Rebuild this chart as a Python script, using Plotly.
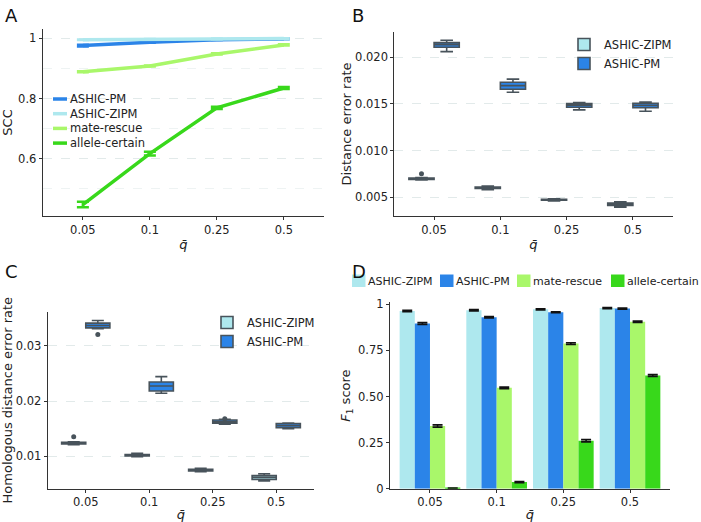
import plotly.graph_objects as go

q_labels = ["0.05", "0.1", "0.25", "0.5"]
methods_a = ["ASHIC-PM", "ASHIC-ZIPM", "mate-rescue", "allele-certain"]
methods_d = ["ASHIC-ZIPM", "ASHIC-PM", "mate-rescue", "allele-certain"]

# ---- Panel A: SCC ----
scc_pm = [0.976, 0.987, 0.995, 0.998]
scc_pm_err = [0.003, 0.002, 0.001, 0.001]
scc_zipm = [0.995, 0.997, 0.998, 0.999]
scc_zipm_err = [0.001, 0.001, 0.001, 0.001]
scc_mate = [0.889, 0.908, 0.948, 0.978]
scc_mate_err = [0.002, 0.002, 0.002, 0.002]
scc_allele = [0.448, 0.617, 0.769, 0.835]
scc_allele_err = [0.009, 0.006, 0.004, 0.003]

# ---- Panel B: distance error rate (box stats) ----
b_zipm_q1 = [0.00692, 0.00596, 0.00469, 0.00412]
b_zipm_med = [0.00699, 0.00603, 0.00474, 0.00428]
b_zipm_q3 = [0.00706, 0.00610, 0.00479, 0.00440]
b_zipm_lo = [0.00685, 0.00582, 0.00460, 0.00395]
b_zipm_hi = [0.00712, 0.00622, 0.00485, 0.00452]
b_zipm_out = [[0.00753], [], [], []]
b_pm_q1 = [0.02107, 0.01657, 0.01465, 0.01460]
b_pm_med = [0.02135, 0.01696, 0.01486, 0.01486]
b_pm_q3 = [0.02156, 0.01732, 0.01503, 0.01507]
b_pm_lo = [0.02060, 0.01625, 0.01436, 0.01422]
b_pm_hi = [0.02182, 0.01765, 0.01514, 0.01521]
b_pm_out = [[], [], [], []]

# ---- Panel C: homologous distance error rate (box stats) ----
c_zipm_q1 = [0.01222, 0.01005, 0.00732, 0.00580]
c_zipm_med = [0.01236, 0.01018, 0.00745, 0.00618]
c_zipm_q3 = [0.01250, 0.01030, 0.00760, 0.00650]
c_zipm_lo = [0.01210, 0.00990, 0.00720, 0.00550]
c_zipm_hi = [0.01260, 0.01050, 0.00780, 0.00680]
c_zipm_out = [[0.0135], [], [], []]
c_pm_q1 = [0.03327, 0.02182, 0.01600, 0.01515]
c_pm_med = [0.03369, 0.02273, 0.01624, 0.01551]
c_pm_q3 = [0.03413, 0.02345, 0.01655, 0.01590]
c_pm_lo = [0.03310, 0.02140, 0.01580, 0.01500]
c_pm_hi = [0.03460, 0.02442, 0.01670, 0.01600]
c_pm_out = [[0.03205], [], [0.0168, 0.0159], []]

# ---- Panel D: F1 score ----
f1_zipm = [0.964, 0.968, 0.973, 0.980]
f1_pm = [0.896, 0.930, 0.957, 0.977]
f1_mate = [0.340, 0.547, 0.787, 0.906]
f1_allele = [0.002, 0.036, 0.260, 0.614]
f1_zipm_err = [0.004, 0.004, 0.003, 0.003]
f1_pm_err = [0.005, 0.004, 0.003, 0.003]
f1_mate_err = [0.006, 0.004, 0.005, 0.004]
f1_allele_err = [0.002, 0.003, 0.006, 0.005]

C_ZIPM = "#aee8ee"
C_PM = "#2b84e8"
C_MATE = "#a9f76a"
C_ALLELE = "#38d81b"
COLORS = {"ASHIC-ZIPM": C_ZIPM, "ASHIC-PM": C_PM, "mate-rescue": C_MATE, "allele-certain": C_ALLELE}
BOX_LINE = "#48535b"
FONT = "DejaVu Sans"
TXT = "#222222"
W, H = 701, 522


def px(x):
    return x / W


def py(y):
    return 1 - y / H


fig = go.Figure()

# Panel A lines
for name, vals, errs in zip(methods_a, [scc_pm, scc_zipm, scc_mate, scc_allele],
                            [scc_pm_err, scc_zipm_err, scc_mate_err, scc_allele_err]):
    fig.add_trace(go.Scatter(
        x=q_labels, y=vals, name=name, mode="lines",
        line=dict(color=COLORS[name], width=3.5),
        error_y=dict(type="data", array=errs, color=COLORS[name], thickness=2.5, width=6),
        xaxis="x", yaxis="y", showlegend=False,
    ))


def add_boxes(xa, ya, leg, stats):
    for name, (q1, med, q3, lo, hi, out) in stats:
        kw = {}
        if any(len(o) for o in out):
            kw = dict(y=out, boxpoints="outliers")
        fig.add_trace(go.Box(
            x=q_labels, q1=q1, median=med, q3=q3, lowerfence=lo, upperfence=hi,
            name=name, offsetgroup=name, fillcolor=COLORS[name],
            line=dict(color=BOX_LINE, width=1.6),
            marker=dict(color=BOX_LINE, size=5),
            xaxis=xa, yaxis=ya, legend=leg, showlegend=True, **kw,
        ))


add_boxes("x2", "y2", "legend2", [
    ("ASHIC-ZIPM", (b_zipm_q1, b_zipm_med, b_zipm_q3, b_zipm_lo, b_zipm_hi, b_zipm_out)),
    ("ASHIC-PM", (b_pm_q1, b_pm_med, b_pm_q3, b_pm_lo, b_pm_hi, b_pm_out)),
])
add_boxes("x3", "y3", "legend3", [
    ("ASHIC-ZIPM", (c_zipm_q1, c_zipm_med, c_zipm_q3, c_zipm_lo, c_zipm_hi, c_zipm_out)),
    ("ASHIC-PM", (c_pm_q1, c_pm_med, c_pm_q3, c_pm_lo, c_pm_hi, c_pm_out)),
])

# Panel D bars
for name, vals, errs in zip(methods_d, [f1_zipm, f1_pm, f1_mate, f1_allele],
                            [f1_zipm_err, f1_pm_err, f1_mate_err, f1_allele_err]):
    fig.add_trace(go.Bar(
        x=q_labels, y=vals, name=name, marker=dict(color=COLORS[name], line=dict(width=0)),
        error_y=dict(type="data", array=errs, color="#111111", thickness=1.6, width=5),
        xaxis="x4", yaxis="y4", showlegend=False,
    ))

axis_common = dict(
    showline=True, linecolor="#333333", linewidth=1,
    ticks="outside", ticklen=3, tickcolor="#333333",
    tickfont=dict(family=FONT, size=11.5, color=TXT),
    zeroline=False, automargin=False,
)
title_font = dict(family=FONT, size=13, color=TXT)
xtitle = dict(text="<i>q̄</i>", font=title_font, standoff=4)
grid = dict(showgrid=True, gridcolor="#e2eaea", griddash="dash", gridwidth=1)
leg_common = dict(xanchor="left", yanchor="top", bgcolor="rgba(0,0,0,0)",
                  font=dict(family=FONT, size=11.5, color=TXT), itemwidth=30)

fig.update_layout(
    width=W, height=H,
    margin=dict(l=0, r=0, t=0, b=0, autoexpand=False),
    paper_bgcolor="white", plot_bgcolor="white",
    font=dict(family=FONT, size=11.5, color=TXT),
    boxmode="group", boxgap=0.24, boxgroupgap=0,
    barmode="group", bargap=0.09, bargroupgap=0,
    showlegend=True,
    xaxis=dict(domain=[0.0609, 0.4622], type="category", range=[-0.6, 3.6],
               anchor="y", showgrid=False, title=xtitle, **axis_common),
    yaxis=dict(domain=[0.5862, 0.9445], range=[0.41, 1.031], anchor="x",
               tickvals=[0.6, 0.8, 1.0], ticktext=["0.6", "0.8", "1"],
               minor=dict(tickvals=[0.5, 0.7, 0.9], showgrid=True, gridcolor="#eef3f3",
                          griddash="dash", ticks=""),
               title=dict(text="SCC", font=title_font, standoff=4),
               **grid, **axis_common),
    xaxis2=dict(domain=[0.5625, 0.9596], type="category", range=[-0.6, 3.6],
                anchor="y2", showgrid=False, title=xtitle, **axis_common),
    yaxis2=dict(domain=[0.5862, 0.9387], range=[0.0030, 0.0227], anchor="x2",
                tickvals=[0.005, 0.010, 0.015, 0.020], tickformat=".3f",
                title=dict(text="Distance error rate", font=title_font, standoff=0),
                **grid, **axis_common),
    xaxis3=dict(domain=[0.068, 0.4484], type="category", range=[-0.6, 3.6],
                anchor="y3", showgrid=False, title=xtitle, **axis_common),
    yaxis3=dict(domain=[0.0638, 0.4029], range=[0.0041, 0.0362], anchor="x3",
                tickvals=[0.01, 0.02, 0.03], tickformat=".2f",
                title=dict(text="Homologous distance error rate", font=title_font, standoff=4),
                **grid, **axis_common),
    xaxis4=dict(domain=[0.5563, 0.9558], type="category", range=[-0.6, 3.6],
                anchor="y4", showgrid=False, title=xtitle, **axis_common),
    yaxis4=dict(domain=[0.0638, 0.4205], range=[0, 1.01], anchor="x4",
                tickvals=[0, 0.25, 0.5, 0.75, 1.0], ticktext=["0", "0.25", "0.50", "0.75", "1"],
                showgrid=False,
                title=dict(text="<i>F</i><sub>1</sub> score", font=title_font, standoff=4),
                **axis_common),
    legend2=dict(x=px(564), y=py(30), **leg_common),
    legend3=dict(x=px(207), y=py(308), **leg_common),
)

# Compact legend for panel A (short line keys)
for i, name in enumerate(methods_a):
    yc = 99 + i * 14.7
    fig.add_shape(type="line", xref="paper", yref="paper",
                  x0=px(53), x1=px(67), y0=py(yc), y1=py(yc),
                  line=dict(color=COLORS[name], width=3.5))
    fig.add_annotation(text=name, x=px(69), y=py(yc), xref="paper", yref="paper",
                       xanchor="left", yanchor="middle", showarrow=False, borderpad=0,
                       font=dict(family=FONT, size=11.5, color=TXT))

# Horizontal legend for panel D
d_key_left = [352, 440, 517, 611]
for name, xl in zip(methods_d, d_key_left):
    fig.add_shape(type="rect", xref="paper", yref="paper",
                  x0=px(xl), x1=px(xl + 13.5), y0=py(287), y1=py(274.5),
                  fillcolor=COLORS[name], line=dict(width=0))
    fig.add_annotation(text=name, x=px(xl + 14.5), y=py(281), xref="paper", yref="paper",
                       xanchor="left", yanchor="middle", showarrow=False, borderpad=0,
                       font=dict(family=FONT, size=11, color=TXT))

for label, x, y in [("A", 3, 3), ("B", 350, 3), ("C", 3, 259), ("D", 350, 259)]:
    fig.add_annotation(text=label, x=px(x), y=py(y), xref="paper", yref="paper",
                       xanchor="left", yanchor="top", showarrow=False,
                       font=dict(family=FONT, size=18, color="#111111"))

fig.write_html("out.html", config={"displayModeBar": False},
               post_script="document.body.style.margin='0';document.body.style.overflow='hidden';")
